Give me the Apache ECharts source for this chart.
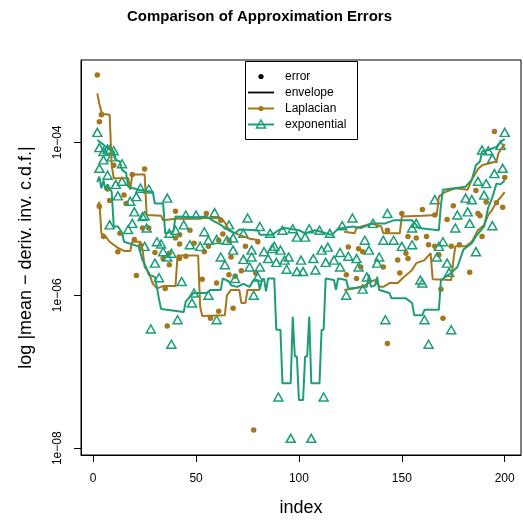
<!DOCTYPE html>
<html><head><meta charset="utf-8">
<script src="https://cdn.jsdelivr.net/npm/echarts@6/dist/echarts.min.js"></script>
<style>html,body{margin:0;padding:0;background:#fff}#c{width:523px;height:520px}</style>
</head><body><div id="c"></div>
<script>
// ---- data (y values are log10 of the error) ----
const xTicks = [0, 50, 100, 150, 200];
const yTickExp = [-8, -6, -4];
const xRange = [-5.92, 207.92];
const yRange = [-8.088, -2.924];
const legendLabels = ['error', 'envelope', 'Laplacian', 'exponential'];

const lapPoints = [
[2,-3.12],[4,-3.64],[3,-3.73],[10,-4.30],[19,-4.42],[25,-4.35],[7,-4.61],[8,-4.76],[15,-4.69],[16,-4.80],
[3,-4.84],[5,-5.23],[13,-5.19],[12,-5.43],[20,-5.27],[23,-5.35],[24,-5.12],[27,-5.12],[30,-5.44],[34,-5.52],
[37,-5.60],[37,-5.45],[21,-5.74],[35,-5.91],[36,-6.40],
[40,-4.90],[40,-5.25],[42,-5.33],[55,-4.93],[47,-5.15],[42,-5.21],[49,-5.32],[54,-5.43],[56,-5.36],[63,-5.20],
[62,-5.02],[61,-5.28],[66,-5.28],[67,-5.50],[42,-5.52],[45,-5.49],[72,-5.68],[66,-5.73],[69,-5.75],[53,-5.79],
[60,-5.84],[79,-5.71],[68,-6.17],[61,-6.21],[57,-6.30],[78,-7.76],[80,-5.30],[74,-5.36],
[124,-5.37],[123,-5.73],[129,-5.39],[131,-5.43],[130,-5.63],[128,-5.78],
[150,-4.93],[160,-4.88],[166,-4.95],[143,-5.15],[153,-5.23],[157,-5.25],[162,-5.23],[163,-5.34],[166,-5.36],
[152,-5.45],[153,-5.52],[148,-5.54],[141,-5.63],[149,-5.71],[168,-5.47],[143,-6.63],[170,-6.30],
[183,-5.70],[169,-5.92],[175,-4.83],[187,-4.93],[172,-5.01],[196,-4.79],[199,-4.85],[191,-4.78],[189,-5.23],
[195,-3.86],[200,-4.46],[186,-4.63],[188,-4.96],[174,-5.36],[178,-5.34]
];

const expPoints = [
[2,-3.87],[3,-4.07],[3,-4.34],[5,-4.12],[5,-4.23],[7,-4.09],[8,-4.10],[9,-4.19],[10,-4.11],[7,-4.43],
[11,-4.55],[14,-4.51],[14,-4.28],[12,-4.70],[23,-4.60],[27,-4.61],[21,-4.71],[18,-4.77],[20,-4.91],[36,-4.73],
[25,-4.96],[8,-5.08],[19,-5.06],[17,-5.14],[26,-5.12],[37,-5.19],[31,-5.30],[33,-5.33],[34,-5.43],[36,-5.50],
[38,-5.45],[25,-5.36],[30,-5.58],[32,-5.77],[28,-6.44],[38,-6.64],[24,-4.97],
[45,-4.95],[50,-4.95],[59,-4.92],[75,-4.99],[81,-5.10],[40,-5.15],[44,-5.08],[54,-5.17],[56,-5.28],[66,-5.08],
[47,-5.34],[52,-5.36],[60,-5.27],[65,-5.28],[68,-5.25],[73,-5.19],[68,-5.41],[77,-5.41],[77,-5.50],[62,-5.50],
[64,-5.60],[73,-5.53],[76,-5.63],[81,-5.63],[69,-5.78],[80,-5.76],[43,-5.82],[49,-5.97],[48,-6.10],[56,-6.00],
[78,-6.00],[41,-6.32],[60,-6.32],
[86,-5.19],[92,-5.15],[97,-5.13],[99,-5.24],[103,-5.24],[105,-5.13],[110,-5.15],[115,-5.19],[121,-5.09],[126,-4.99],
[88,-5.36],[91,-5.41],[85,-5.52],[89,-5.57],[93,-5.54],[95,-5.50],[101,-5.54],[107,-5.52],[111,-5.41],[114,-5.37],
[113,-5.57],[117,-5.54],[120,-5.44],[124,-5.49],[120,-5.63],[94,-5.66],[99,-5.69],[102,-5.69],[108,-5.67],[123,-6.00],
[83,-5.43],[87,-5.39],[90,-7.33],[112,-7.33],[96,-7.87],[106,-7.87],
[166,-4.75],[143,-4.93],[136,-5.06],[157,-5.06],[155,-5.12],[132,-5.28],[134,-5.41],[141,-5.28],[146,-5.28],[150,-5.36],
[155,-5.34],[139,-5.50],[138,-5.58],[128,-5.52],[129,-5.63],[133,-5.76],[131,-5.92],[159,-5.80],[160,-5.84],[142,-6.32],
[161,-6.32],[163,-6.64],
[174,-6.45],[173,-5.70],[172,-5.58],[186,-5.43],[168,-5.36],[170,-5.30],[167,-5.50],[176,-5.12],[177,-4.95],[182,-4.91],
[183,-5.06],[194,-5.09],[200,-3.87],[192,-4.11],[198,-4.04],[194,-4.21],[199,-4.34],[195,-4.41],[187,-4.51],[191,-4.54],
[190,-4.69],[181,-4.73],[184,-4.75],[189,-4.10]
];

const lapUpperA = [[2,-3.36],[3,-3.50],[4,-3.60],[5,-3.63],[8,-3.64],[9,-4.30],[10,-4.47],[17,-4.47],[18,-4.62],[19,-4.42],
[25,-4.42],[26,-4.95],[33,-4.96],[34,-5.02],[40,-5.00],[50,-4.99],[62,-4.99],[64,-5.05],[66,-5.15],[70,-5.20],
[73,-5.23],[76,-5.26],[81,-5.28]];
const lapUpperB = [[122,-5.17],[127,-5.19],[128,-5.12],[133,-5.08],[135,-5.06],[140,-5.10],[141,-5.19],[149,-5.19],[150,-4.97],
[160,-4.96],[167,-4.95],[168,-4.71],[171,-4.65],[176,-4.60],[182,-4.62],[184,-4.49],[187,-4.35],[189,-4.30],[193,-4.27],
[196,-4.25],[197,-4.14],[199,-4.06],[200,-4.02]];
const lapLowerA = [[2,-4.84],[3,-4.78],[4,-5.19],[6,-5.23],[8,-5.30],[12,-5.38],[15,-5.42],[18,-5.42],[19,-5.30],[23,-5.30],
[24,-5.40],[25,-5.63],[27,-5.70],[29,-5.85],[31,-5.91],[34,-5.88],[40,-5.88],[41,-5.48],[51,-5.48],[52,-6.15],
[53,-6.27],[64,-6.26],[65,-6.00],[67,-5.93],[71,-5.93],[72,-6.10],[74,-6.10],[75,-5.93],[81,-5.93]];
const lapLowerB = [[122,-5.93],[127,-5.91],[132,-5.87],[135,-5.82],[137,-5.80],[139,-5.89],[141,-5.89],[144,-5.84],[148,-5.84],
[151,-5.76],[155,-5.67],[157,-5.58],[161,-5.54],[164,-5.45],[165,-5.79],[174,-5.80],[175,-5.55],[176,-5.36],[181,-5.36],
[184,-5.30],[187,-5.15],[190,-5.08],[192,-4.95],[194,-4.88],[196,-4.78],[198,-4.72],[200,-4.65]];
const expUpper = [[2,-3.97],[4,-4.01],[7,-4.08],[10,-4.12],[11,-4.23],[13,-4.25],[14,-4.36],[16,-4.40],[17,-4.58],[22,-4.62],
[29,-4.65],[30,-4.80],[34,-4.80],[35,-5.19],[39,-5.17],[40,-4.97],[50,-4.98],[55,-4.97],[58,-5.02],[62,-5.08],
[64,-5.12],[66,-5.15],[69,-5.19],[71,-5.14],[80,-5.15],[81,-5.21],[87,-5.21],[90,-5.15],[93,-5.12],[100,-5.15],
[103,-5.19],[108,-5.15],[113,-5.19],[116,-5.21],[119,-5.13],[126,-5.10],[130,-5.12],[134,-5.08],[136,-5.06],[142,-5.06],
[146,-5.02],[155,-5.02],[157,-5.08],[158,-5.12],[168,-5.15],[169,-4.82],[170,-4.62],[181,-4.58],[184,-4.49],[186,-4.30],
[188,-4.25],[189,-4.12],[192,-4.10],[196,-4.06],[198,-3.99],[200,-3.96]];
const expLower = [[2,-4.52],[3,-4.45],[4,-4.60],[5,-4.50],[6,-4.62],[7,-4.55],[9,-4.65],[10,-5.10],[12,-5.10],[14,-5.18],
[15,-5.30],[22,-5.36],[23,-5.45],[24,-5.54],[26,-5.65],[27,-5.73],[30,-5.76],[31,-5.90],[32,-6.05],[33,-6.18],
[44,-6.22],[45,-6.08],[47,-6.02],[49,-5.97],[55,-5.97],[57,-5.93],[62,-5.93],[63,-5.78],[66,-5.82],[67,-5.87],
[70,-5.89],[73,-5.85],[76,-5.89],[78,-5.80],[80,-5.80],[81,-5.92],[82,-5.80],[83,-5.78],[84,-5.95],[85,-5.78],
[88,-5.78],[89,-6.45],[91,-6.45],[92,-7.15],[96,-7.15],[97,-6.28],[98,-6.80],[99,-6.80],[100,-7.37],[102,-7.37],
[103,-6.80],[104,-6.80],[105,-6.28],[106,-7.15],[110,-7.15],[111,-6.45],[112,-6.45],[113,-5.78],[117,-5.80],[118,-5.93],
[119,-5.78],[123,-5.80],[124,-5.91],[133,-5.89],[134,-5.73],[135,-5.89],[137,-5.87],[138,-5.76],[139,-5.93],[144,-5.97],
[145,-6.04],[152,-6.04],[155,-6.10],[156,-6.26],[160,-6.26],[161,-6.19],[168,-6.19],[169,-5.80],[174,-5.71],[177,-5.63],
[180,-5.40],[184,-5.32],[186,-5.23],[190,-5.10],[192,-4.85],[194,-4.72],[196,-4.54],[198,-4.55],[200,-4.50]];

// ---- styling ----
const BROWN = '#A6761D', GREEN = '#1B9E77';
const FONT = '"Liberation Sans", Arial, Helvetica, sans-serif';
function expLabel(v) { const e = Math.round(v); const s = Math.abs(e) < 10 ? '0' + Math.abs(e) : '' + Math.abs(e); return '1e' + (e < 0 ? '\u2212' : '+') + s; }

function lineSeries(data, color) {
  return { type: 'line', data: data, showSymbol: false, symbol: 'none', silent: true, z: 3,
    lineStyle: { color: color, width: 2 }, emphasis: { disabled: true }, animation: false };
}

const chart = echarts.init(document.getElementById('c'), null, { renderer: 'canvas' });
chart.setOption({
  animation: false,
  backgroundColor: '#fff',
  grid: { left: 81, top: 60, right: 2, bottom: 65, containLabel: false, outerBoundsMode: 'none',
    show: true, borderColor: '#000', borderWidth: 1, backgroundColor: 'transparent' },
  xAxis: {
    type: 'value', min: xRange[0], max: xRange[1],
    axisLine: { show: true, onZero: false, lineStyle: { color: '#000', width: 1 } },
    axisTick: { show: true, inside: false, length: 7, lineStyle: { color: '#000', width: 1 }, customValues: xTicks },
    axisLabel: { customValues: xTicks, margin: 18, fontSize: 12, color: '#000', fontFamily: FONT },
    splitLine: { show: false },
    name: 'index', nameLocation: 'middle', nameGap: 44,
    nameTextStyle: { fontSize: 18, color: '#000', fontFamily: FONT }
  },
  yAxis: {
    type: 'value', min: yRange[0], max: yRange[1],
    axisLine: { show: true, onZero: false, lineStyle: { color: '#000', width: 1 } },
    axisTick: { show: true, inside: false, length: 7, lineStyle: { color: '#000', width: 1 }, customValues: yTickExp },
    axisLabel: { customValues: yTickExp, rotate: 90, margin: 17, fontSize: 12, color: '#000', fontFamily: FONT, formatter: expLabel },
    splitLine: { show: false },
    name: 'log |mean \u2212 deriv. inv. c.d.f.|', nameLocation: 'middle', nameGap: 46,
    nameTextStyle: { fontSize: 18, color: '#000', fontFamily: FONT }
  },
  series: [
    { type: 'scatter', data: lapPoints, symbol: 'circle', symbolSize: 5.5, silent: true, z: 2,
      itemStyle: { color: BROWN, opacity: 1 } },
    { type: 'scatter', data: expPoints, symbol: 'triangle', symbolSize: [9, 8], silent: true, z: 2,
      itemStyle: { color: 'rgba(0,0,0,0)', borderColor: GREEN, borderWidth: 1.5, opacity: 1 } },
    lineSeries(lapUpperA, BROWN), lineSeries(lapUpperB, BROWN),
    lineSeries(lapLowerA, BROWN), lineSeries(lapLowerB, BROWN),
    lineSeries(expUpper, GREEN), lineSeries(expLower, GREEN)
  ],
  graphic: [
    { type: 'text', z: 100, style: { text: 'Comparison of Approximation Errors', x: 259.5, y: 17, textAlign: 'center', textVerticalAlign: 'middle',
      font: 'bold 15px ' + FONT, fill: '#000' } },
    { type: 'rect', z: 100, shape: { x: 245.5, y: 61.5, width: 112, height: 78 }, style: { fill: '#fff', stroke: '#000', lineWidth: 1 } },
    { type: 'circle', z: 101, shape: { cx: 261, cy: 76.5, r: 2.6 }, style: { fill: '#000' } },
    { type: 'line', z: 101, shape: { x1: 248, y1: 92.5, x2: 274, y2: 92.5 }, style: { stroke: '#000', lineWidth: 1.8 } },
    { type: 'line', z: 101, shape: { x1: 248, y1: 108.5, x2: 274, y2: 108.5 }, style: { stroke: BROWN, lineWidth: 2 } },
    { type: 'circle', z: 102, shape: { cx: 261, cy: 108.5, r: 2.6 }, style: { fill: BROWN } },
    { type: 'line', z: 101, shape: { x1: 248, y1: 124.5, x2: 274, y2: 124.5 }, style: { stroke: GREEN, lineWidth: 2 } },
    { type: 'polygon', z: 102, shape: { points: [[261, 120], [265.5, 128], [256.5, 128]] }, style: { fill: 'none', stroke: GREEN, lineWidth: 1.5 } },
  ].concat(legendLabels.map((t, k) => ({ type: 'text', z: 102,
      style: { text: t, x: 285, y: 76.5 + 16 * k, textAlign: 'left', textVerticalAlign: 'middle', font: '12px ' + FONT, fill: '#000' } })))
});
</script></body></html>
